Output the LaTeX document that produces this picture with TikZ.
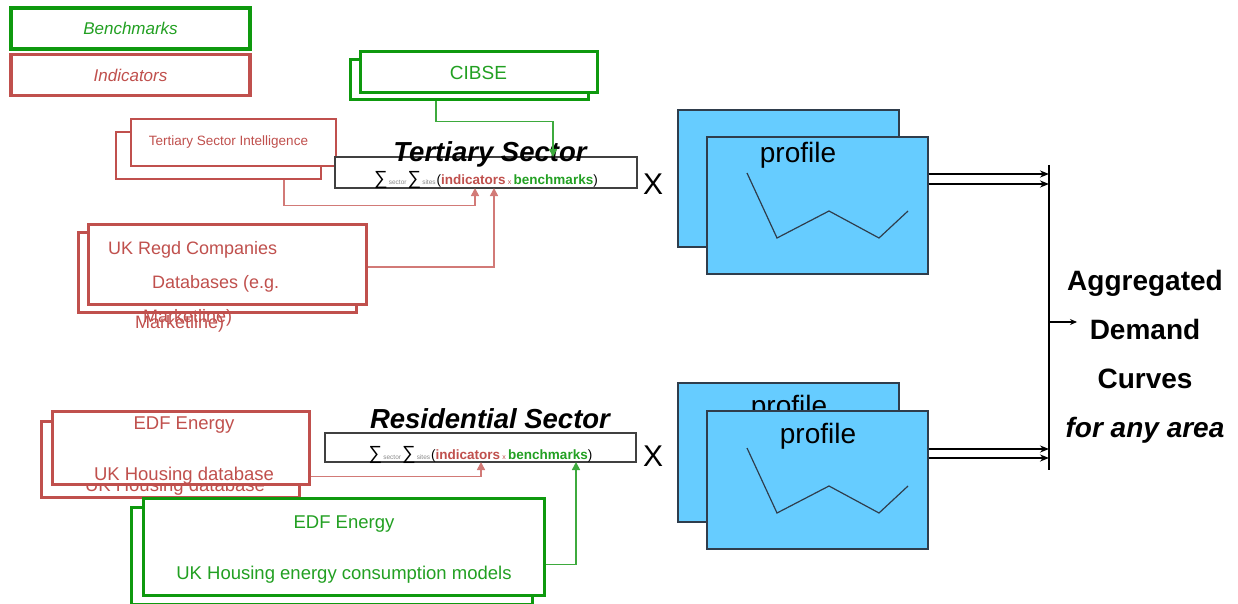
\documentclass[tikz,border=0pt]{standalone}
\usepackage{fontspec}
\setmainfont{Liberation Sans}
\usetikzlibrary{arrows.meta,positioning,calc}
\definecolor{ADCanvas}{HTML}{FFFFFF}
\definecolor{ADGreen}{HTML}{0E990E}
\definecolor{ADGreenText}{HTML}{22A022}
\definecolor{ADGreenLine}{HTML}{3DAA3D}
\definecolor{ADRed}{HTML}{C0504D}
\definecolor{ADRedText}{HTML}{C0504D}
\definecolor{ADRedLine}{HTML}{D27A77}
\definecolor{ADSky}{HTML}{66CCFF}
\definecolor{ADEdge}{HTML}{2F3D4C}
\definecolor{ADInk}{HTML}{000000}
\definecolor{ADGray}{HTML}{8A8A8A}
\tikzset{
  feed/.style={-{Triangle[length=8pt,width=8pt]},line width=1.6pt},
  feedred/.style={feed,ADRedLine},
  feedgreen/.style={feed,ADGreenLine},
  merge/.style={-{Stealth[length=9pt,width=7pt]},ADInk,line width=1.8pt},
  src/.style={fill=ADCanvas,inner sep=0pt,line width=3pt},
  srcgreen/.style={src,draw=ADGreen},
  srcred/.style={src,draw=ADRed},
  greentext/.style={text=ADGreenText,inner sep=0pt,align=center},
  redtext/.style={text=ADRedText,inner sep=0pt,align=center},
  sumbox/.style={draw=ADInk!75,line width=1.4pt,fill=ADCanvas,inner sep=0pt,
                 text height=24.5pt,text depth=0.5pt,font=\fontsize{13.5}{15}\selectfont},
  sectorname/.style={text=ADInk,font=\fontsize{27.5}{30}\selectfont\bfseries\itshape,inner sep=0pt},
  profile/.style={draw=ADEdge,line width=1.3pt,fill=ADSky,minimum width=221pt},
  profilename/.style={text=ADInk,font=\fontsize{28}{30}\selectfont,inner sep=0pt},
  trace/.style={ADEdge,line width=1.2pt},
  timesign/.style={text=ADInk,font=\fontsize{30}{32}\selectfont,inner sep=0pt},
}
\newcommand{\sumterm}{%
  {\fontsize{19}{20}\selectfont ∑}{\fontsize{6.5}{7}\selectfont\color{ADGray}\,sector\,}%
  {\fontsize{19}{20}\selectfont ∑}{\fontsize{6.5}{7}\selectfont\color{ADGray}\,sites\,}%
  (\textcolor{ADRedText}{\bfseries indicators}\,{\fontsize{7}{8}\selectfont\color{ADRedText}x}\,%
  \textcolor{ADGreenText}{\bfseries benchmarks})}
\newcommand{\profiletrace}[2]{%
  \begin{scope}[shift={(#1,#2)}]
    \draw[trace] (0,0) -- (30,65) -- (82,38) -- (132,65) -- (161,38);
  \end{scope}%
}

\begin{document}
\begin{tikzpicture}[x=1pt,y=-1pt,
    legendbox/.style={minimum width=239pt,minimum height=41pt,line width=3.4pt,
                      font=\fontsize{17}{20}\selectfont\itshape},
    srcfont/.style={font=\fontsize{18.5}{51}\selectfont}]
  \useasboundingbox (0,0) rectangle (1238,604);

  % ------------------------------------------------------------------ legend
  \node[srcgreen,legendbox,text=ADGreenText] (bench) at (130.5,28.5) {Benchmarks};
  \node[srcred,legendbox,text=ADRedText]     (ind)   at (130.5,75)   {Indicators};

  % ------------------------------------------------------ tertiary sources
  \node[srcgreen,minimum width=238pt,minimum height=40pt] (cibseback) at (469,80) {};
  \node[srcgreen,minimum width=237pt,minimum height=41pt,greentext,
        font=\fontsize{19}{22}\selectfont] (cibse) at (478.5,72.5) {CIBSE};

  \node[srcred,line width=2.6pt,minimum width=205pt,minimum height=47pt] (tsiback) at (218.5,155.5) {};
  \node[srcred,line width=2.6pt,minimum width=205pt,minimum height=47pt,redtext,
        font=\fontsize{13.5}{15}\selectfont] (tsi) at (233.5,142.5) {\hspace*{-10pt}Tertiary Sector Intelligence};

  \node[srcred,minimum width=278pt,minimum height=80pt] (ukregdback) at (217,272.5) {};
  \node[redtext,font=\fontsize{18}{20}\selectfont,anchor=base west] (ukregdover) at (135,328) {Marketline)};
  \node[srcred,minimum width=278pt,minimum height=80pt] (ukregd) at (227,264) {};
  \node[redtext,align=left,font=\fontsize{18}{34}\selectfont,anchor=north west] (ukregdtext) at (108,241)
    {UK Regd Companies\\\hspace*{44pt}Databases (e.g.\\\hspace*{35pt}Marketline)};

  % --------------------------------------------------- residential sources
  \node[srcred,minimum width=258pt,minimum height=76pt] (edfredback) at (170,459) {};
  \node[redtext,font=\fontsize{18.5}{20}\selectfont,anchor=base] (edfredover) at (175,491) {UK Housing database};
  \node[srcred,minimum width=257pt,minimum height=73pt] (edfred) at (180.5,447.5) {};
  \node[redtext,srcfont,anchor=north] (edfredtext) at (184,417) {EDF Energy\\UK Housing database};

  \node[srcgreen,minimum width=401pt,minimum height=97pt] (edfgreenback) at (332,556) {};
  \node[srcgreen,minimum width=401pt,minimum height=97pt] (edfgreen) at (343.5,546.5) {};
  \node[greentext,srcfont,anchor=north] (edfgreentext) at (344,516)
    {EDF Energy\\UK Housing energy consumption models};

  % ------------------------------------------------------------- sum boxes
  \node[sumbox,minimum width=302pt,minimum height=31pt] (tsum) at (486,172.5) {\sumterm};
  \node[sectorname,anchor=base] (tsname) at (490,162) {Tertiary Sector};
  \node[timesign] (tstimes) at (653,184) {X};

  \node[sumbox,minimum width=311pt,minimum height=29pt] (rsum) at (480.5,447.5) {\sumterm};
  \node[sectorname,anchor=base] (rsname) at (490,428) {Residential Sector};
  \node[timesign] (rstimes) at (653,456) {X};

  \coordinate (tsbench) at (553,157);
  \coordinate (tsind)   at (475,188);
  \coordinate (tsreg)   at (494,188);
  \coordinate (rsind)   at (481,462);
  \coordinate (rsbench) at (576,462);

  \draw[feedgreen] ([xshift=-33pt]cibseback.south) -- ++(0,20) -| (tsbench);
  \draw[feedred]   ([xshift=65.5pt]tsiback.south) -- ++(0,25) -| (tsind);
  \draw[feedred]   ([yshift=-3pt]ukregd.east) -| (tsreg);
  \draw[feedred]   ([yshift=9pt]edfred.south east) -| (rsind);
  \draw[feedgreen] ([yshift=32pt]edfgreen.south east) -| (rsbench);

  % -------------------------------------------------------------- profiles
  \node[profile,minimum height=137pt] (tpback)  at (788.5,178.5) {};
  \node[profile,minimum height=137pt] (tpfront) at (817.5,205.5) {};
  \node[profilename,anchor=base] (tplabel) at (798,163) {profile};
  \profiletrace{747}{173}

  \node[profile,minimum height=139pt] (bpback) at (788.5,452.5) {};
  \node[profilename,anchor=base] (bpbacklabel) at (789,415) {profile};
  \node[profile,minimum height=138pt] (bpfront) at (817.5,480) {};
  \node[profilename,anchor=base] (bplabel) at (818,443) {profile};
  \profiletrace{747}{448}

  % ------------------------------------------------------------ aggregation
  \coordinate (bartop) at (1049,165);
  \coordinate (barbot) at (1049,470);
  \coordinate (barout) at (1049,322);
  \draw[ADInk,line width=1.8pt] (bartop) -- (barbot);

  \coordinate (tpout1) at ([yshift=31.5pt]tpfront.east);
  \coordinate (tpout2) at ([yshift=21.5pt]tpfront.east);
  \coordinate (bpout1) at ([yshift=31pt]bpfront.east);
  \coordinate (bpout2) at ([yshift=22pt]bpfront.east);
  \draw[merge] (tpout1) -- (tpout1 -| bartop);
  \draw[merge] (tpout2) -- (tpout2 -| bartop);
  \draw[merge] (bpout1) -- (bpout1 -| bartop);
  \draw[merge] (bpout2) -- (bpout2 -| bartop);
  \draw[merge,line width=1.3pt,-{Stealth[length=7pt,width=6pt]}] (barout) -- ++(28,0);

  \node[font=\fontsize{28}{49}\selectfont\bfseries,align=center,inner sep=0pt] (aggr) at (1145,357)
    {Aggregated\\Demand\\Curves\\{\itshape for any area}};
\end{tikzpicture}
\end{document}
